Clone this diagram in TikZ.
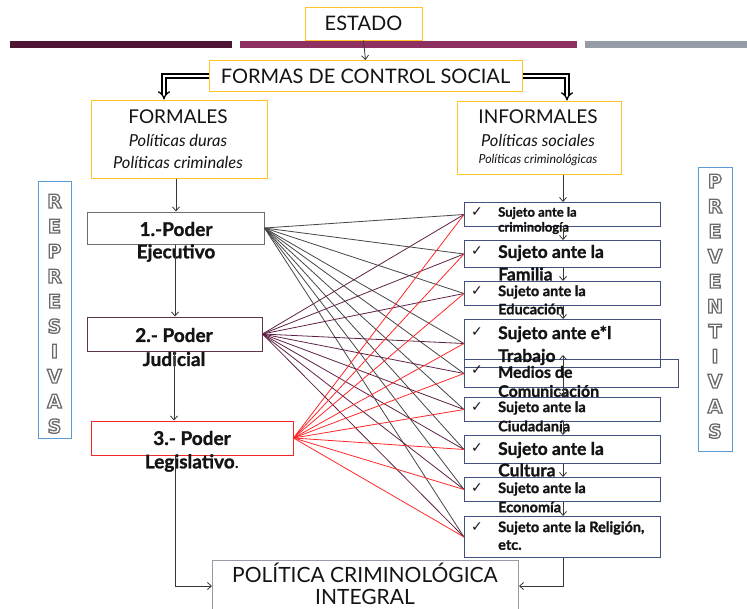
\documentclass[tikz,border=0pt]{standalone}
\usepackage{fontspec}
\setmainfont{Lato}
\newfontfamily\dejavu{DejaVu Sans}
\newfontfamily\dejavub{DejaVu Sans}[UprightFont=*-Bold]
\newfontfamily\heavy{Lato Bold}[FakeBold=1.2]
\usetikzlibrary{arrows.meta}
\definecolor{ygold}{RGB}{255,196,40}
\definecolor{barA}{RGB}{78,21,52}
\definecolor{barB}{RGB}{142,49,96}
\definecolor{barC}{RGB}{150,156,166}
\definecolor{pgray}{RGB}{110,110,110}
\definecolor{ppurp}{RGB}{92,52,76}
\definecolor{pred}{RGB}{240,40,40}
\definecolor{sblue}{RGB}{65,80,125}
\definecolor{lblue}{RGB}{91,155,213}
\definecolor{fgray}{RGB}{70,70,70}
\definecolor{fpurp}{RGB}{95,34,70}
\definecolor{fred}{RGB}{255,40,40}
\definecolor{ink}{RGB}{20,20,20}
\tikzset{
  ybox/.style={draw=ygold, line width=1pt, inner sep=0pt},
  pbox/.style={draw=#1, line width=1pt, inner sep=0pt},
  sbox/.style={draw=sblue, line width=1pt, inner sep=0pt, anchor=north west},
  vbox/.style={draw=lblue, line width=0.9pt, inner sep=0pt, anchor=north west},
  arr/.style={draw=ink!85, line width=0.8pt, -{Straight Barb[length=4pt,width=7pt]}},
  dbl/.style={double=white, draw=black, line width=1.3pt, double distance=2.8pt, -{Implies[length=7pt]}},
  txt/.style={inner sep=0pt, text=ink},
  stxt/.style={inner sep=0pt, text=ink, anchor=west},
  chk/.style={inner sep=0pt, text=ink, font=\dejavu\fontsize{14}{14}\selectfont},
  vl/.style={inner sep=0pt, align=center, font=\dejavub\fontsize{19}{25}\selectfont},
  fan/.style={line width=0.8pt}
}
\newcommand\outl[1]{\special{pdf:literal direct 1 Tr 1.3 w 0.42 G}#1\special{pdf:literal direct 0 Tr 0 G}}
\newcommand\hv[1]{\heavy\fontsize{#1}{#1}\selectfont}
\begin{document}
\begin{tikzpicture}[x=1pt,y=-1pt]
\clip (0,0) rectangle (747,608);
\fill[white] (0,0) rectangle (747,608);
% bars
\fill[barA] (10,41) rectangle (232,48);
\fill[barB] (240,41) rectangle (577,48);
\fill[barC] (585,41) rectangle (747,48);
% top boxes
\node[ybox, minimum width=117pt, minimum height=33pt, font=\fontsize{20}{20}\selectfont, text=ink] (estado) at (363.5,23.5) {ESTADO};
\node[ybox, minimum width=313pt, minimum height=31pt, font=\fontsize{20}{20}\selectfont, text=ink] (formas) at (365.5,76) {FORMAS DE CONTROL SOCIAL};
\draw[arr] (estado.south) -- (formas.north);
\node[ybox, minimum width=176pt, minimum height=78pt] (formales) at (179,139) {};
\node[txt, font=\fontsize{19}{19}\selectfont] at (178,117) {FORMALES};
\node[txt, font=\itshape\fontsize{16.5}{16.5}\selectfont] at (178,140) {Políticas duras};
\node[txt, font=\itshape\fontsize{16.5}{16.5}\selectfont] at (178,162) {Políticas criminales};
\node[ybox, minimum width=164pt, minimum height=73pt] (informales) at (539,137.5) {};
\node[txt, font=\fontsize{19}{19}\selectfont] at (538,117) {INFORMALES};
\node[txt, font=\itshape\fontsize{16.5}{16.5}\selectfont] at (538,140) {Políticas sociales};
\node[txt, font=\itshape\fontsize{12.4}{12.4}\selectfont] at (538,160) {Políticas criminológicas};
% double arrows
\draw[dbl] (formas.west) -- (164,76) -- (formales.north -| 164,0);
\draw[dbl] (formas.east) -- (567,76) -- (informales.north -| 567,0);
% poderes
\node[pbox=pgray, minimum width=177pt, minimum height=32pt] (p1) at (175.5,228) {};
\node[pbox=ppurp, minimum width=175pt, minimum height=34pt] (p2) at (174.5,334) {};
\node[pbox=pred, minimum width=202pt, minimum height=34pt] (p3) at (192,438) {};
\node[txt, font=\hv{19}] at (176,229) {1.-Poder};
\node[txt, font=\hv{19}] at (176,253) {Ejecutivo};
\node[txt, font=\hv{19}] at (174,335) {2.- Poder};
\node[txt, font=\hv{19}] at (174,359) {Judicial};
\node[txt, font=\hv{19}] at (192,438) {3.- Poder};
\node[txt, font=\hv{19}] at (192,463) {Legislativo\normalfont.};
% right boxes
\node[sbox, minimum width=196pt, minimum height=24pt] (s1) at (464,202) {};
\node[sbox, minimum width=196pt, minimum height=27pt] (s2) at (464,240) {};
\node[sbox, minimum width=196pt, minimum height=24pt] (s3) at (464,281) {};
\node[sbox, minimum width=196pt, minimum height=48pt] (s4) at (464,319) {};
\node[sbox, minimum width=214pt, minimum height=28pt] (s5) at (464,359) {};
\node[sbox, minimum width=196pt, minimum height=24pt] (s6) at (464,397) {};
\node[sbox, minimum width=196pt, minimum height=28pt] (s7) at (464,435) {};
\node[sbox, minimum width=196pt, minimum height=24pt] (s8) at (464,477) {};
\node[sbox, minimum width=196pt, minimum height=41pt] (s9) at (464,516) {};
% right texts
\node[stxt, font=\hv{13}] at (498,213) {Sujeto ante la};
\node[stxt, font=\hv{13}] at (498,228) {criminología};
\node[stxt, font=\hv{17.5}] at (498,253) {Sujeto ante la};
\node[stxt, font=\hv{17.5}] at (498,274) {Familia};
\node[stxt, font=\hv{14.5}] at (498,292) {Sujeto ante la};
\node[stxt, font=\hv{14.5}] at (498,309) {Educación};
\node[stxt, font=\hv{17.5}] at (498,334) {Sujeto ante e*l};
\node[stxt, font=\hv{17.5}] at (498,357) {Trabajo};
\node[stxt, font=\hv{16}] at (498,372) {Medios de};
\node[stxt, font=\hv{16}] at (498,391) {Comunicación};
\node[stxt, font=\hv{14.5}] at (498,408) {Sujeto ante la};
\node[stxt, font=\hv{14.5}] at (498,426) {Ciudadanía};
\node[stxt, font=\hv{17.5}] at (498,450) {Sujeto ante la};
\node[stxt, font=\hv{17.5}] at (498,470) {Cultura};
\node[stxt, font=\hv{14.5}] at (498,489) {Sujeto ante la};
\node[stxt, font=\hv{14.5}] at (498,507) {Economía};
\node[stxt, font=\hv{14.5}] at (498,528) {Sujeto ante la Religión,};
\node[stxt, font=\hv{14.5}] at (498,545) {etc.};
% check marks
\foreach \yy in {212,251,291,332,370,407,448,488,527}
  \node[chk] at (477,\yy) {✓};
% politica
\node[draw=barC, line width=1pt, inner sep=0pt, minimum width=306pt, minimum height=60pt, anchor=north west] (pol) at (212,560) {};
\node[txt, font=\fontsize{21}{21}\selectfont] at (365,573) {POLÍTICA CRIMINOLÓGICA};
\node[txt, font=\fontsize{21}{21}\selectfont] at (365,597) {INTEGRAL};
% fans
\foreach \t in {s1,s2,s3,s4,s5,s6,s7,s8,s9}
  \draw[fan, fgray] (p1.east) -- (\t.west);
\foreach \t in {s1,s2,s3,s4,s5,s6,s7,s8,s9}
  \draw[fan, fpurp] (p2.east) -- (\t.west);
\foreach \t in {s1,s2,s3,s4,s5,s6,s7,s8,s9}
  \draw[fan, fred] (p3.east) -- (\t.west);
% vertical arrows left
\draw[arr] (formales.south -| 176,0) -- (p1.north -| 176,0);
\draw[arr] (p1.south -| 175,0) -- (p2.north -| 175,0);
\draw[arr] (p2.south -| 174,0) -- (p3.north -| 174,0);
\draw[arr] (p3.south -| 175,0) -- (175,586) -- (pol.west |- 0,586);
% vertical arrows right
\draw[arr] (informales.south -| 563,0) -- (s1.north -| 563,0);
\draw[arr] (s1.south -| 563,0) -- (s2.north -| 563,0);
\draw[arr] (s2.south -| 563,0) -- (s3.north -| 563,0);
\draw[arr] (s3.south -| 563,0) -- (s4.north -| 563,0);
\draw[arr] (s5.south -| 563,0) -- (563,355);
\draw[arr] (s5.south -| 563,0) -- (s6.north -| 563,0);
\draw[arr] (s6.south -| 563,0) -- (s7.north -| 563,0);
\draw[arr] (s7.south -| 563,0) -- (s8.north -| 563,0);
\draw[arr] (s8.south -| 563,0) -- (s9.north -| 563,0);
\draw[arr] (s9.south -| 563,0) -- (563,586) -- (pol.east |- 0,586);
% side boxes
\node[vbox, minimum width=33pt, minimum height=257pt] (rep) at (38,181) {};
\node[vl, anchor=north] (repl) at (54.5,194) {\outl{R\\E\\P\\R\\E\\S\\I\\V\\A\\S}};
\node[vbox, minimum width=34pt, minimum height=284pt] (prev) at (698,167) {};
\node[vl, anchor=north] (prevl) at (715,174) {\outl{P\\R\\E\\V\\E\\N\\T\\I\\V\\A\\S}};
\end{tikzpicture}
\end{document}
